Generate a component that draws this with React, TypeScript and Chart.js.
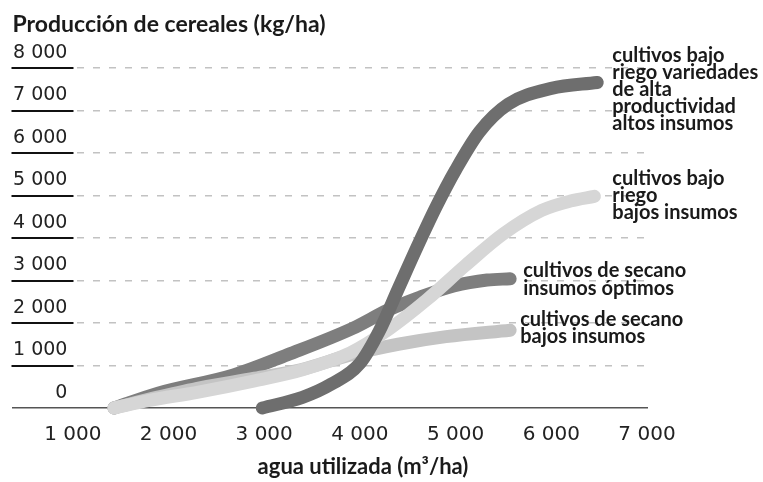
import React, { useEffect, useRef } from 'react';
import { Chart, registerables } from 'chart.js';

Chart.register(...registerables);

// ---- data ----
const xTickValues = [1000, 2000, 3000, 4000, 5000, 6000, 7000];
const yTickValues = [0, 1000, 2000, 3000, 4000, 5000, 6000, 7000, 8000];

const yTitle = 'Producción de cereales (kg/ha)';
const xTitle = 'agua utilizada (m³/ha)';

// cultivos bajo riego, variedades de alta productividad, altos insumos
const hyvWater = [2980, 3400, 3700, 4000, 4200, 4400, 4600, 4800, 5000, 5250, 5550, 6000, 6480];
const hyvYield = [0, 250, 560, 1050, 1800, 2800, 3800, 4750, 5600, 6500, 7150, 7520, 7660];

// cultivos bajo riego, bajos insumos
const riegoWater = [1430, 1800, 2300, 2900, 3400, 3900, 4300, 4700, 5100, 5500, 5900, 6200, 6450];
const riegoYield = [0, 180, 370, 640, 900, 1300, 1850, 2550, 3350, 4100, 4650, 4870, 4980];

// cultivos de secano, bajos insumos
const secanoBajoWater = [1430, 1900, 2340, 2900, 3380, 3900, 4400, 4900, 5570];
const secanoBajoYield = [0, 260, 480, 700, 900, 1250, 1500, 1680, 1830];

// cultivos de secano, insumos óptimos
const secanoOptWater = [1430, 1890, 2680, 3240, 3930, 4290, 4630, 4980, 5330, 5570];
const secanoOptYield = [0, 350, 780, 1250, 1880, 2300, 2610, 2870, 3010, 3040];

const hyvNote = ['cultivos bajo', 'riego variedades', 'de alta', 'productividad', 'altos insumos'];
const riegoNote = ['cultivos bajo', 'riego', 'bajos insumos'];
const secanoOptNote = ['cultivos de secano', 'insumos óptimos'];
const secanoBajoNote = ['cultivos de secano', 'bajos insumos'];

const fmt = (v: number) => String(v).replace(/\B(?=(\d{3})+(?!\d))/g, ' ');

const toPoints = (xs: number[], ys: number[]) => xs.map((x, i) => ({ x, y: ys[i] }));

const series = (label: string, xs: number[], ys: number[], color: string) => ({
  label,
  data: toPoints(xs, ys),
  borderColor: color,
  backgroundColor: color,
  borderWidth: 13,
  pointRadius: 0,
  pointHoverRadius: 0,
  borderCapStyle: 'round' as const,
  borderJoinStyle: 'round' as const,
  cubicInterpolationMode: 'monotone' as const,
  fill: false,
  clip: false as const,
});

const textPlugin = {
  id: 'textPlugin',
  afterDraw(chart: any) {
    const { ctx, chartArea, scales } = chart;
    const y = scales.y;
    ctx.save();
    // underlines under y labels
    ctx.strokeStyle = '#111';
    ctx.lineWidth = 2;
    yTickValues.forEach((v) => {
      if (v === 0) return;
      const py = Math.round(y.getPixelForValue(v));
      ctx.beginPath();
      ctx.moveTo(chartArea.left - 1, py);
      ctx.lineTo(chartArea.left + 61, py);
      ctx.stroke();
    });

    ctx.fillStyle = '#1a1a1a';
    ctx.textBaseline = 'alphabetic';
    ctx.textAlign = 'left';
    ctx.font = 'bold 23px Lato';
    ctx.fillText(yTitle, chartArea.left, 32);

    ctx.textAlign = 'center';
    ctx.font = 'bold 22px Lato';
    ctx.fillText(xTitle, 363, 474);

    const notes = [
      { lines: hyvNote, ds: 0, dx: 15, dy: -20, lh: 17 },
      { lines: riegoNote, ds: 1, dx: 18, dy: -11, lh: 17 },
      { lines: secanoBajoNote, ds: 2, dx: 10, dy: -4, lh: 17 },
      { lines: secanoOptNote, ds: 3, dx: 13, dy: -2, lh: 18.5 },
    ];
    ctx.textAlign = 'left';
    ctx.font = 'bold 20px Lato';
    notes.forEach((n) => {
      const meta = chart.getDatasetMeta(n.ds);
      const last = meta.data[meta.data.length - 1];
      n.lines.forEach((t, i) => {
        ctx.fillText(t, last.x + n.dx, last.y + n.dy + i * n.lh);
      });
    });
    ctx.restore();
  },
};

export default function App() {
  const ref = useRef<HTMLCanvasElement | null>(null);

  useEffect(() => {
    if (!ref.current) return;
    const chart = new Chart(ref.current, {
      type: 'line',
      data: {
        datasets: [
          series('cultivos bajo riego variedades de alta productividad altos insumos', hyvWater, hyvYield, '#6e6e6e'),
          series('cultivos bajo riego bajos insumos', riegoWater, riegoYield, '#d6d6d6'),
          series('cultivos de secano bajos insumos', secanoBajoWater, secanoBajoYield, '#c4c4c4'),
          series('cultivos de secano insumos óptimos', secanoOptWater, secanoOptYield, '#7e7e7e'),
        ],
      },
      options: {
        responsive: false,
        animation: false,
        events: [],
        layout: { padding: { left: 11.5, right: 116, top: 68, bottom: 21 } },
        plugins: { legend: { display: false }, tooltip: { enabled: false }, title: { display: false } },
        scales: {
          x: {
            type: 'linear',
            min: 370,
            max: 7000,
            afterBuildTicks: (scale: any) => {
              scale.ticks = xTickValues.map((v) => ({ value: v }));
            },
            ticks: {
              autoSkip: false,
              maxRotation: 0,
              padding: 14.5,
              color: '#222',
              font: { family: 'DejaVu Sans', size: 20 },
              callback: (v: any) => fmt(Number(v)),
            },
            grid: { display: false, drawTicks: false },
            border: { display: true, color: '#555', width: 1.5 },
          },
          y: {
            type: 'linear',
            min: 0,
            max: 8000,
            afterBuildTicks: (scale: any) => {
              scale.ticks = yTickValues.map((v) => ({ value: v }));
            },
            ticks: {
              mirror: true,
              crossAlign: 'far',
              padding: 0.5,
              labelOffset: -15,
              color: '#222',
              font: { family: 'DejaVu Sans', size: 19 },
              callback: (v: any) => fmt(Number(v)),
            },
            grid: {
              drawTicks: false,
              lineWidth: 1.5,
              color: (c: any) => (c.tick && c.tick.value === 0 ? 'rgba(0,0,0,0)' : '#c2c2c2'),
            },
            border: { display: false, dash: [7, 9] },
          },
        },
      },
      plugins: [textPlugin],
    });
    return () => chart.destroy();
  }, []);

  return (
    <div style={{ position: 'absolute', left: 0, top: 0, width: 763, height: 482, background: '#fff' }}>
      <canvas ref={ref} width={763} height={482} />
    </div>
  );
}
